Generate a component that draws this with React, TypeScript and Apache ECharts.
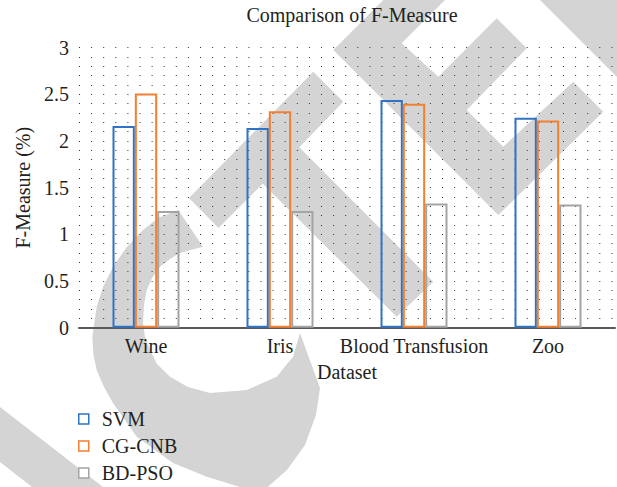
import React, { useEffect, useRef } from "react";
import * as echarts from "echarts";

const categories = ["Wine", "Iris", "Blood Transfusion", "Zoo"];
const svmValues = [2.16, 2.14, 2.44, 2.25];
const cgcnbValues = [2.51, 2.32, 2.4, 2.22];
const bdpsoValues = [1.25, 1.25, 1.33, 1.32];
const seriesNames = ["SVM", "CG-CNB", "BD-PSO"];
const seriesColors = ["#2f73c4", "#f37f30", "#a4a4a4"];

const FONT = "Liberation Serif";
const TEXT = "#231f20";
const WM = "#d4d4d4";

// watermark shapes (decoration only)
const wmT = [[189, 198], [313.3, 71.7], [343.3, 101.7], [299.25, 147.25], [433.3, 281.7], [396.7, 316.7], [262.75, 183.75], [218.5, 228]];
const wmE = [[333.3, 50], [383.3, 0], [445, 0], [401.7, 43.3], [438.3, 76.7], [496.7, 18.3], [526.7, 48.3], [466.7, 110], [503.3, 146.7], [573.3, 81.7], [603.3, 111.7], [498.3, 215]];
const wmCorner = [[540, 0], [620, 0], [620, 80]];
const wmBand = [[0, 407], [103, 487], [32, 487], [0, 462]];
const wmC = [
  [178.3, 210], [158, 218], [143, 230], [126, 248], [113, 267], [103, 287], [96.7, 306.7], [92.3, 336.7],
  [93.5, 355], [96.7, 370], [104, 387], [113, 403], [136.7, 436.7], [173, 463], [206.7, 476.7], [240, 487],
  [262, 492], [287, 470], [305, 445], [316, 415], [320, 388], [300, 333], [293, 356.7], [276.7, 376.7],
  [246.7, 390], [210, 393], [188, 387], [170, 376.7], [157, 364], [150, 350], [145, 337], [143, 323],
  [144, 305], [146.7, 290], [152, 278], [160, 266.7], [170, 259], [180, 253], [203, 246.7],
];

export default function App() {
  const ref = useRef<HTMLDivElement>(null);
  useEffect(() => {
    if (!ref.current) return;
    const chart = echarts.init(ref.current, null, { renderer: "svg" });
    const dotLine = { type: [1, 11.1], color: "#333333", width: 1 };
    const values = [svmValues, cgcnbValues, bdpsoValues];
    const poly = (pts: number[][]) => ({
      type: "polygon",
      z: -10,
      silent: true,
      shape: { points: pts },
      style: { fill: WM },
    });
    chart.setOption({
      animation: false,
      backgroundColor: "#ffffff",
      textStyle: { fontFamily: FONT },
      title: {
        text: "Comparison of F-Measure",
        left: 347,
        top: 0,
        textAlign: "center",
        textStyle: { fontFamily: FONT, fontSize: 20, fontWeight: "normal", color: TEXT },
      },
      graphic: { elements: [poly(wmC), poly(wmT), poly(wmE), poly(wmCorner), poly(wmBand)] },
      grid: { left: 79, right: 2, top: 47.7, bottom: 159.3 },
      legend: {
        orient: "vertical",
        left: 78,
        top: 409,
        padding: 0,
        icon: "rect",
        itemWidth: 10,
        itemHeight: 10,
        itemGap: 7,
        textStyle: { fontFamily: FONT, fontSize: 20, color: TEXT, lineHeight: 20, padding: [0, 0, 0, 8] },
        data: seriesNames.map((n, i) => ({
          name: n,
          itemStyle: { color: "#ffffff", borderColor: seriesColors[i], borderWidth: 1.5 },
        })),
      },
      xAxis: {
        type: "category",
        data: categories,
        axisLine: { lineStyle: { color: "#595959", width: 2 } },
        axisTick: { show: false },
        axisLabel: { fontFamily: FONT, fontSize: 20, color: TEXT, margin: 8, interval: 0 },
        splitLine: { show: false },
        name: "Dataset",
        nameLocation: "middle",
        nameGap: 34,
        nameTextStyle: { fontFamily: FONT, fontSize: 20, color: TEXT },
      },
      yAxis: {
        type: "value",
        min: 0,
        max: 3,
        interval: 0.5,
        axisLine: { show: false },
        axisTick: { show: false },
        axisLabel: { fontFamily: FONT, fontSize: 20, color: TEXT, margin: 10 },
        splitLine: { show: true, lineStyle: dotLine },
        minorTick: { show: false, splitNumber: 5 },
        minorSplitLine: { show: true, lineStyle: dotLine },
        name: "F-Measure (%)",
        nameLocation: "middle",
        nameGap: 34,
        nameTextStyle: { fontFamily: FONT, fontSize: 20, color: TEXT },
      },
      series: seriesNames.map((n, i) => ({
        name: n,
        type: "bar",
        data: values[i],
        barGap: "0%",
        barCategoryGap: "50%",
        itemStyle: { color: "rgba(255,255,255,0)", borderColor: seriesColors[i], borderWidth: 2 },
        emphasis: { disabled: true },
      })),
    });
    return () => chart.dispose();
  }, []);
  return (
    <div
      ref={ref}
      style={{ position: "fixed", left: 0, top: 0, width: 617, height: 487 }}
    />
  );
}
